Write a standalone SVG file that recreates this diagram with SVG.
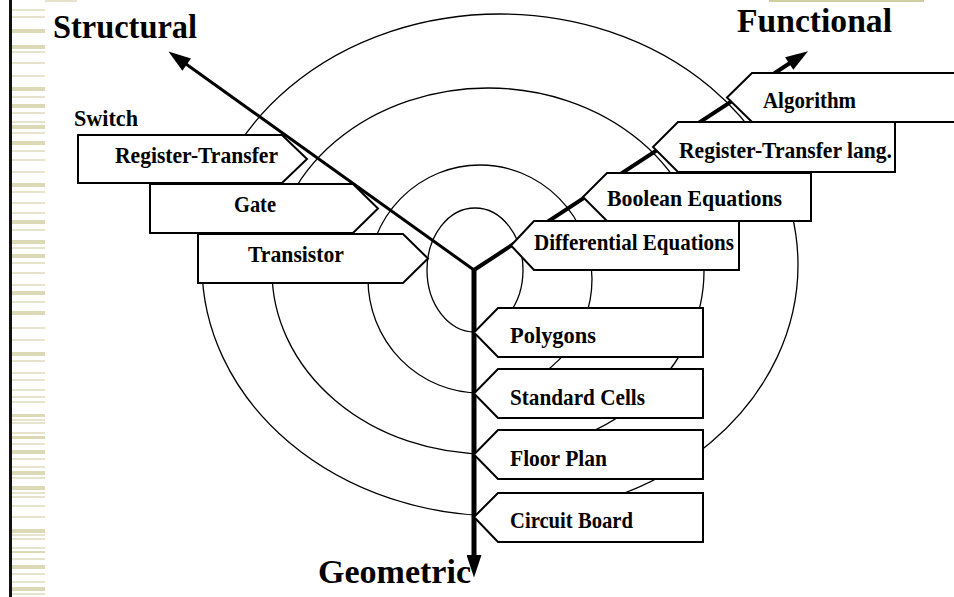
<svg xmlns="http://www.w3.org/2000/svg" width="954" height="597" viewBox="0 0 954 597">
<style>
.lbl{font-family:"Liberation Serif","Times New Roman",serif;font-weight:bold;font-size:24px;fill:#000}
.big{font-size:34px}
.box{fill:#fff;stroke:#000;stroke-width:2;stroke-linejoin:miter}
.ring{fill:none;stroke:#000;stroke-width:1.3}
.axis{fill:none;stroke:#000}
.st1{fill:#e6e4cc}
.st2{fill:#dcdab6}
</style>
<defs>
<marker id="arrow" viewBox="0 0 24 16" refX="1" refY="8" markerWidth="24" markerHeight="15" markerUnits="userSpaceOnUse" orient="auto">
<path d="M0,0 L24,8 L0,16 z" fill="#000"/>
</marker>
</defs>
<rect x="0" y="0" width="954" height="597" fill="#fff"/>
<g id="margin">
<rect x="9" y="0" width="3" height="597" fill="#111"/>
<rect x="45" y="0" width="32" height="2" class="st1"/>
<rect x="769" y="0" width="155" height="2" fill="#cfcd9f"/>
<g>
<rect x="12" y="9" width="33" height="2" class="st1"/>
<rect x="12" y="16" width="33" height="2" class="st1"/>
<rect x="12" y="29" width="33" height="4" class="st2"/>
<rect x="12" y="45" width="33" height="4" class="st2"/>
<rect x="12" y="51" width="33" height="2" class="st1"/>
<rect x="12" y="62" width="33" height="2" class="st1"/>
<rect x="12" y="75" width="33" height="2" class="st1"/>
<rect x="12" y="87" width="33" height="4" class="st2"/>
<rect x="12" y="96" width="33" height="2" class="st1"/>
<rect x="12" y="104" width="33" height="4" class="st2"/>
<rect x="12" y="112" width="33" height="2" class="st1"/>
<rect x="12" y="121" width="33" height="2" class="st1"/>
<rect x="12" y="125" width="33" height="4" class="st2"/>
<rect x="12" y="132" width="33" height="2" class="st1"/>
<rect x="12" y="141" width="33" height="4" class="st2"/>
<rect x="12" y="150" width="33" height="2" class="st1"/>
<rect x="12" y="159" width="33" height="2" class="st1"/>
<rect x="12" y="171" width="33" height="2" class="st1"/>
<rect x="12" y="183" width="33" height="4" class="st2"/>
<rect x="12" y="191" width="33" height="2" class="st1"/>
<rect x="12" y="202" width="33" height="2" class="st1"/>
<rect x="12" y="212" width="33" height="2" class="st1"/>
<rect x="12" y="220" width="33" height="4" class="st2"/>
<rect x="12" y="229" width="33" height="2" class="st1"/>
<rect x="12" y="240" width="33" height="4" class="st2"/>
<rect x="12" y="247" width="33" height="2" class="st1"/>
<rect x="12" y="254" width="33" height="4" class="st2"/>
<rect x="12" y="262" width="33" height="2" class="st1"/>
<rect x="12" y="272" width="33" height="2" class="st1"/>
<rect x="12" y="284" width="33" height="2" class="st1"/>
<rect x="12" y="291" width="33" height="4" class="st2"/>
<rect x="12" y="301" width="33" height="2" class="st1"/>
<rect x="12" y="311" width="33" height="4" class="st2"/>
<rect x="12" y="327" width="33" height="2" class="st1"/>
<rect x="12" y="339" width="33" height="2" class="st1"/>
<rect x="12" y="352" width="33" height="4" class="st2"/>
<rect x="12" y="360" width="33" height="2" class="st1"/>
<rect x="12" y="372" width="33" height="2" class="st1"/>
<rect x="12" y="379" width="33" height="2" class="st1"/>
<rect x="12" y="389" width="33" height="2" class="st1"/>
<rect x="12" y="396" width="33" height="2" class="st1"/>
<rect x="12" y="401" width="33" height="2" class="st1"/>
<rect x="12" y="414" width="33" height="3" class="st2"/>
<rect x="12" y="419" width="33" height="2" class="st1"/>
<rect x="12" y="422" width="33" height="2" class="st1"/>
<rect x="12" y="432" width="33" height="2" class="st1"/>
<rect x="12" y="436" width="33" height="3" class="st2"/>
<rect x="12" y="443" width="33" height="2" class="st1"/>
<rect x="12" y="450" width="33" height="4" class="st2"/>
<rect x="12" y="458" width="33" height="2" class="st1"/>
<rect x="12" y="466" width="33" height="2" class="st1"/>
<rect x="12" y="471" width="33" height="4" class="st2"/>
<rect x="12" y="477" width="33" height="2" class="st1"/>
<rect x="12" y="486" width="33" height="4" class="st2"/>
<rect x="12" y="492" width="33" height="2" class="st1"/>
<rect x="12" y="496" width="33" height="2" class="st1"/>
<rect x="12" y="505" width="33" height="2" class="st1"/>
<rect x="12" y="516" width="33" height="2" class="st1"/>
<rect x="12" y="529" width="33" height="4" class="st2"/>
<rect x="12" y="534" width="33" height="2" class="st1"/>
<rect x="12" y="538" width="33" height="2" class="st1"/>
<rect x="12" y="547" width="33" height="2" class="st1"/>
<rect x="12" y="551" width="33" height="2" class="st2"/>
<rect x="12" y="558" width="33" height="2" class="st1"/>
<rect x="12" y="565" width="33" height="4" class="st2"/>
<rect x="12" y="573" width="33" height="2" class="st1"/>
<rect x="12" y="581" width="33" height="2" class="st1"/>
<rect x="12" y="587" width="33" height="4" class="st2"/>
<rect x="12" y="593" width="33" height="2" class="st1"/>
</g>
</g>
<g id="rings">
<ellipse class="ring" cx="475" cy="270" rx="48" ry="62"/>
<ellipse class="ring" cx="480" cy="279" rx="112" ry="114"/>
<ellipse class="ring" cx="488" cy="271" rx="216" ry="183"/>
<ellipse class="ring" cx="500" cy="265" rx="298" ry="251"/>
</g>
<g id="connectors">
<path class="axis" d="M474,270 L186,64" stroke-width="3" marker-end="url(#arrow)"/>
<path class="axis" d="M474,270 L790,63" stroke-width="4" marker-end="url(#arrow)"/>
<path class="axis" d="M474,268 L474,556" stroke-width="5" marker-end="url(#arrow)"/>
</g>
<g id="node-structural"><text class="lbl big" x="53" y="38" textLength="144" lengthAdjust="spacingAndGlyphs">Structural</text></g>
<g id="node-functional"><text class="lbl big" x="737" y="32" textLength="155" lengthAdjust="spacingAndGlyphs">Functional</text></g>
<g id="node-geometric"><text class="lbl big" x="318" y="583" textLength="153" lengthAdjust="spacingAndGlyphs">Geometric</text></g>
<g id="node-switch"><text class="lbl" x="74" y="126" textLength="64" lengthAdjust="spacingAndGlyphs">Switch</text></g>
<g id="node-register-transfer">
<polygon class="box" points="78,135 282,135 307,159 282,183 78,183"/>
<text class="lbl" x="115" y="163" textLength="163" lengthAdjust="spacingAndGlyphs">Register-Transfer</text>
</g>
<g id="node-gate">
<polygon class="box" points="150,184 353,184 378,208.5 353,233 150,233"/>
<text class="lbl" x="234" y="212" textLength="42" lengthAdjust="spacingAndGlyphs">Gate</text>
</g>
<g id="node-transistor">
<polygon class="box" points="198,234 403,234 428,258.5 403,283 198,283"/>
<text class="lbl" x="248" y="262" textLength="96" lengthAdjust="spacingAndGlyphs">Transistor</text>
</g>
<g id="node-algorithm">
<polygon class="box" points="752,73 970,73 970,122 752,122 727,97.5"/>
<text class="lbl" x="763" y="108" textLength="93" lengthAdjust="spacingAndGlyphs">Algorithm</text>
</g>
<g id="node-rt-lang">
<polygon class="box" points="678,122 895,122 895,172 678,172 653,147"/>
<text class="lbl" x="679" y="158" textLength="213" lengthAdjust="spacingAndGlyphs">Register-Transfer lang.</text>
</g>
<g id="node-boolean">
<polygon class="box" points="607,173 811,173 811,221 607,221 583,197"/>
<text class="lbl" x="607" y="206" textLength="175" lengthAdjust="spacingAndGlyphs">Boolean Equations</text>
</g>
<g id="node-differential">
<polygon class="box" points="534,221 739,221 739,270 534,270 511,245.5"/>
<text class="lbl" x="534" y="250" textLength="200" lengthAdjust="spacingAndGlyphs">Differential Equations</text>
</g>
<g id="node-polygons">
<polygon class="box" points="498,308 703,308 703,357 498,357 474,332.5"/>
<text class="lbl" x="510" y="343" textLength="86" lengthAdjust="spacingAndGlyphs">Polygons</text>
</g>
<g id="node-standard-cells">
<polygon class="box" points="498,369 703,369 703,418 498,418 474,393.5"/>
<text class="lbl" x="510" y="405" textLength="135" lengthAdjust="spacingAndGlyphs">Standard Cells</text>
</g>
<g id="node-floor-plan">
<polygon class="box" points="498,430 703,430 703,479 498,479 474,454.5"/>
<text class="lbl" x="510" y="466" textLength="97" lengthAdjust="spacingAndGlyphs">Floor Plan</text>
</g>
<g id="node-circuit-board">
<polygon class="box" points="498,493 703,493 703,542 498,542 474,517"/>
<text class="lbl" x="510" y="528" textLength="123" lengthAdjust="spacingAndGlyphs">Circuit Board</text>
</g>
</svg>
